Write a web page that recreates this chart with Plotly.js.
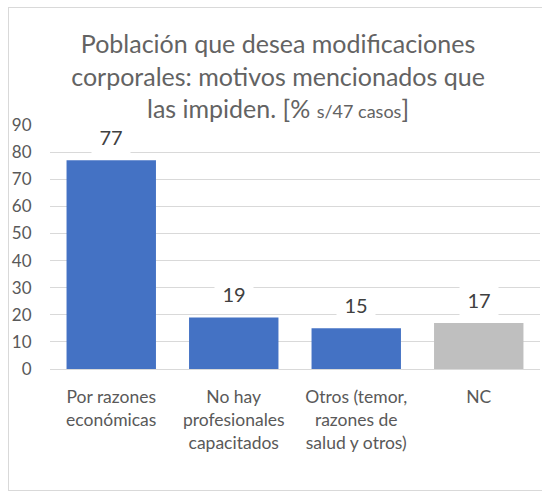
<!DOCTYPE html>
<html>
<head>
<meta charset="utf-8">
<script src="https://cdn.plot.ly/plotly-3.0.1.min.js"></script>
<style>
  html, body { margin: 0; padding: 0; background: #fff; }
  #wrap { position: relative; width: 542px; height: 491px; overflow: hidden; }
  #chart { position: absolute; left: 0; top: 0; width: 542px; height: 491px; }
  #frame { position: absolute; left: 8px; top: 7px; width: 560px; height: 482px;
           border: 1.5px solid #D9D9D9; pointer-events: none; }
</style>
</head>
<body>
<div id="wrap">
  <div id="chart"></div>
  <div id="frame"></div>
</div>
<script>
const categories = ['Por razones económicas', 'No hay profesionales capacitados', 'Otros (temor, razones de salud y otros)', 'NC'];
const tickLabels = ['Por razones<br>económicas', 'No hay<br>profesionales<br>capacitados', 'Otros (temor,<br>razones de<br>salud y otros)', 'NC'];
const values = [77, 19, 15, 17];
const yTicks = [0, 10, 20, 30, 40, 50, 60, 70, 80, 90];

const textColor = '#595959';
const FONT = 'Lato, "Open Sans", sans-serif';
const colors = categories.map(c => c === 'NC' ? '#BFBFBF' : '#4472C4');

const trace = {
  type: 'bar',
  x: categories,
  y: values,
  marker: { color: colors, line: { width: 0 } },
  width: 0.73,
  hoverinfo: 'skip'
};

const annotations = categories.map((c, i) => ({
  x: c, y: values[i], xref: 'x', yref: 'y',
  text: String(values[i]),
  showarrow: false,
  yanchor: 'bottom',
  yshift: 6,
  bgcolor: '#FFFFFF',
  borderpad: 4,
  width: 30,
  font: { family: FONT, size: 20, color: '#404040' }
}));

const layout = {
  width: 542, height: 491,
  paper_bgcolor: 'rgba(0,0,0,0)',
  plot_bgcolor: 'rgba(0,0,0,0)',
  margin: { l: 50, r: 2, t: 125, b: 121.5, pad: 0 },
  showlegend: false,
  title: {
    text: 'Población que desea modificaciones<br>corporales: motivos mencionados que<br>las impiden. [% <span style="font-size:18px">s/47 casos</span>]',
    font: { family: FONT, size: 25, color: '#636363' },
    x: 0.513, xanchor: 'center', xref: 'container',
    y: 1 - 53 / 491, yanchor: 'top', yref: 'container'
  },
  xaxis: {
    tickvals: categories,
    ticktext: tickLabels,
    tickfont: { family: FONT, size: 17.5, color: textColor },
    ticks: 'outside', ticklen: 12, tickcolor: 'rgba(0,0,0,0)',
    showgrid: false, showline: false, zeroline: false,
    fixedrange: true
  },
  yaxis: {
    range: [0, 90],
    tickvals: yTicks,
    tickfont: { family: FONT, size: 17, color: textColor },
    ticks: 'outside', ticklen: 14, tickcolor: 'rgba(0,0,0,0)',
    showgrid: true, gridcolor: '#D9D9D9', gridwidth: 1,
    zeroline: true, zerolinecolor: '#D9D9D9', zerolinewidth: 1,
    showline: false,
    fixedrange: true
  },
  bargap: 0.27,
  annotations: annotations
};

Plotly.newPlot('chart', [trace], layout, { displayModeBar: false, staticPlot: true });
</script>
</body>
</html>
